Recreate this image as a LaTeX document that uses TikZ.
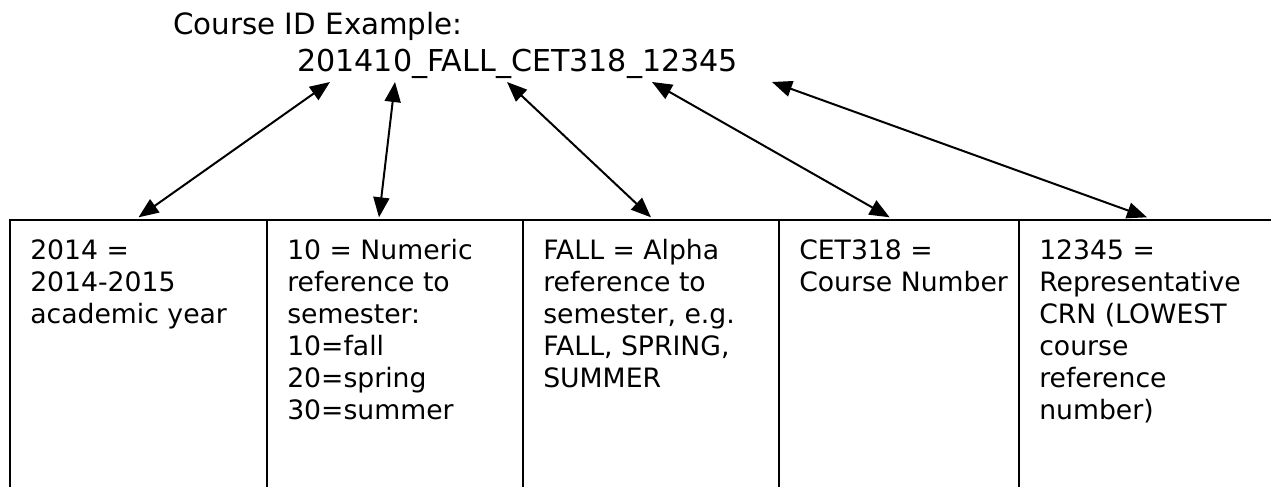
\documentclass[tikz,border=0pt]{standalone}
\usepackage{fontspec}
\setmainfont{DejaVu Sans}
\usetikzlibrary{arrows.meta, positioning}
\tikzset{
    cell/.style={rectangle, draw=black, line width=1.5pt, outer sep=0pt, minimum width=192pt, minimum height=280pt, anchor=north west},
    celltext/.style={anchor=north west, inner sep=0pt, align=left, font=\fontsize{20}{24}\selectfont},
    idtext/.style={anchor=base west, inner sep=0pt, font=\fontsize{22}{26}\selectfont},
    arrow/.style={{Triangle[length=15pt, width=12pt]}-{Triangle[length=15pt, width=12pt]}, line width=1.5pt}
}

\begin{document}
\begin{tikzpicture}[x=0.75pt, y=0.75pt, node distance=0pt]
    \clip (0,0) rectangle (1271,486);
    \node (title) [idtext] at (173,451) {Course ID Example:};
    \node (courseid) [idtext, font=\fontsize{22.6}{26}\selectfont] at (297,414) {201410\_FALL\_CET318\_12345};

    % table cells
    \node (year) [cell, minimum width=192.75pt] at (10,266) {};
    \node (sem) [cell, right=of year] {};
    \node (term) [cell, right=of sem] {};
    \node (num) [cell, right=of term, minimum width=180pt] {};
    \node (crn) [cell, right=of num] {};

    \node (yeartext) [celltext] at ([shift={(20,-19)}]year.north west) {2014 =\\2014-2015\\academic year};
    \node (semtext) [celltext] at ([shift={(20,-19)}]sem.north west) {10 = Numeric\\reference to\\semester:\\10=fall\\20=spring\\30=summer};
    \node (termtext) [celltext] at ([shift={(20,-19)}]term.north west) {FALL = Alpha\\reference to\\semester, e.g.\\FALL, SPRING,\\SUMMER};
    \node (numtext) [celltext] at ([shift={(20,-19)}]num.north west) {CET318 =\\Course Number};
    \node (crntext) [celltext] at ([shift={(20,-19)}]crn.north west) {12345 =\\Representative\\CRN (LOWEST\\course\\reference\\number)};

    % arrow ends below the course id
    \coordinate (yearend) at (330,404);
    \coordinate (semend) at (395,404);
    \coordinate (termend) at (507,404);
    \coordinate (numend) at (652,404);
    \coordinate (crnend) at (772,404);

    \draw [arrow] (yearend) -- ([yshift=2pt]year.north);
    \draw [arrow] (semend) -- ([xshift=-12pt, yshift=2pt]sem.north);
    \draw [arrow] (termend) -- ([yshift=2pt]term.north);
    \draw [arrow] (numend) -- ([xshift=-7pt, yshift=2pt]num.north);
    \draw [arrow] (crnend) -- ([yshift=2pt]crn.north);
\end{tikzpicture}
\end{document}
